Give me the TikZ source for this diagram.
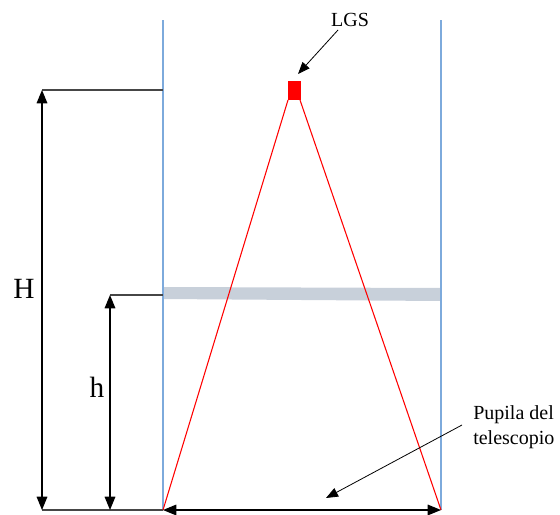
\documentclass[tikz,border=0pt]{standalone}
\usepackage{fontspec}
\setmainfont{Liberation Serif}
\usetikzlibrary{arrows.meta}
\definecolor{guideblue}{RGB}{125,170,220}
\definecolor{bandgray}{RGB}{200,208,218}
\definecolor{dimgray}{RGB}{70,70,70}
\tikzset{
  guide/.style={draw=guideblue, line width=1pt},
  ext/.style={draw=dimgray, line width=1.1pt},
  dimboth/.style={draw=black, line width=0.9pt, {Triangle[length=10pt,width=8pt]}-{Triangle[length=10pt,width=8pt]}},
  callout/.style={draw=black, line width=0.6pt, -{Triangle[length=9pt,width=7pt]}},
  ray/.style={draw=red, line width=0.8pt},
  lbl/.style={font=\fontsize{15}{19}\selectfont, inner sep=0pt},
  biglbl/.style={font=\fontsize{22}{25}\selectfont, inner sep=0pt}
}
\begin{document}
\begin{tikzpicture}[x=0.75pt, y=-0.75pt]
\useasboundingbox (0,0) rectangle (560,514);
% coordinates
\coordinate (lt) at (163,20);
\coordinate (lb) at (163,510);
\coordinate (rt) at (441,20);
\coordinate (rb) at (441,510);
\coordinate (Htop) at (163,90);
\coordinate (Harrtop) at (42,90);
\coordinate (Harrbot) at (42,510);
\coordinate (htop) at (163,295);
\coordinate (harrtop) at (110,295);
\coordinate (harrbot) at (110,510);
\coordinate (sqL) at (288,100);
\coordinate (sqR) at (300,100);
% band
\fill[bandgray] (163,287) -- (441,288) -- (441,301) -- (163,299) -- cycle;
% guides
\draw[guide] (lt) -- (lb);
\draw[guide] (rt) -- (rb);
% extension lines
\draw[ext] (Harrtop) -- (Htop);
\draw[ext] (harrtop) -- (htop);
\draw[ext] (Harrbot) -- (lb);
% rays
\draw[ray] (sqL) -- (lb);
\draw[ray] (sqR) -- (rb);
% LGS square
\node[fill=red, minimum width=9.5pt, minimum height=14pt, inner sep=0pt, anchor=north west] (lgs) at (288,81) {};
% dimension arrows
\draw[dimboth] (Harrtop) -- (Harrbot);
\draw[dimboth] (harrtop) -- (harrbot);
\draw[dimboth] (lb) -- (rb);
% labels
\node[biglbl] (H) at (24,289) {H};
\node[biglbl] (h) at (97,387) {h};
\node[lbl] (lgstext) at (350,20) {LGS};
\node[lbl, anchor=west, align=left] (pupila) at (473,427) {Pupila del\\telescopio};
% callouts
\coordinate (lgsfrom) at (338,30);
\coordinate (lgsto) at (298,74);
\draw[callout] (lgsfrom) -- (lgsto);
\coordinate (pupfrom) at (462,425);
\coordinate (pupto) at (326,498);
\draw[callout] (pupfrom) -- (pupto);
\end{tikzpicture}
\end{document}
